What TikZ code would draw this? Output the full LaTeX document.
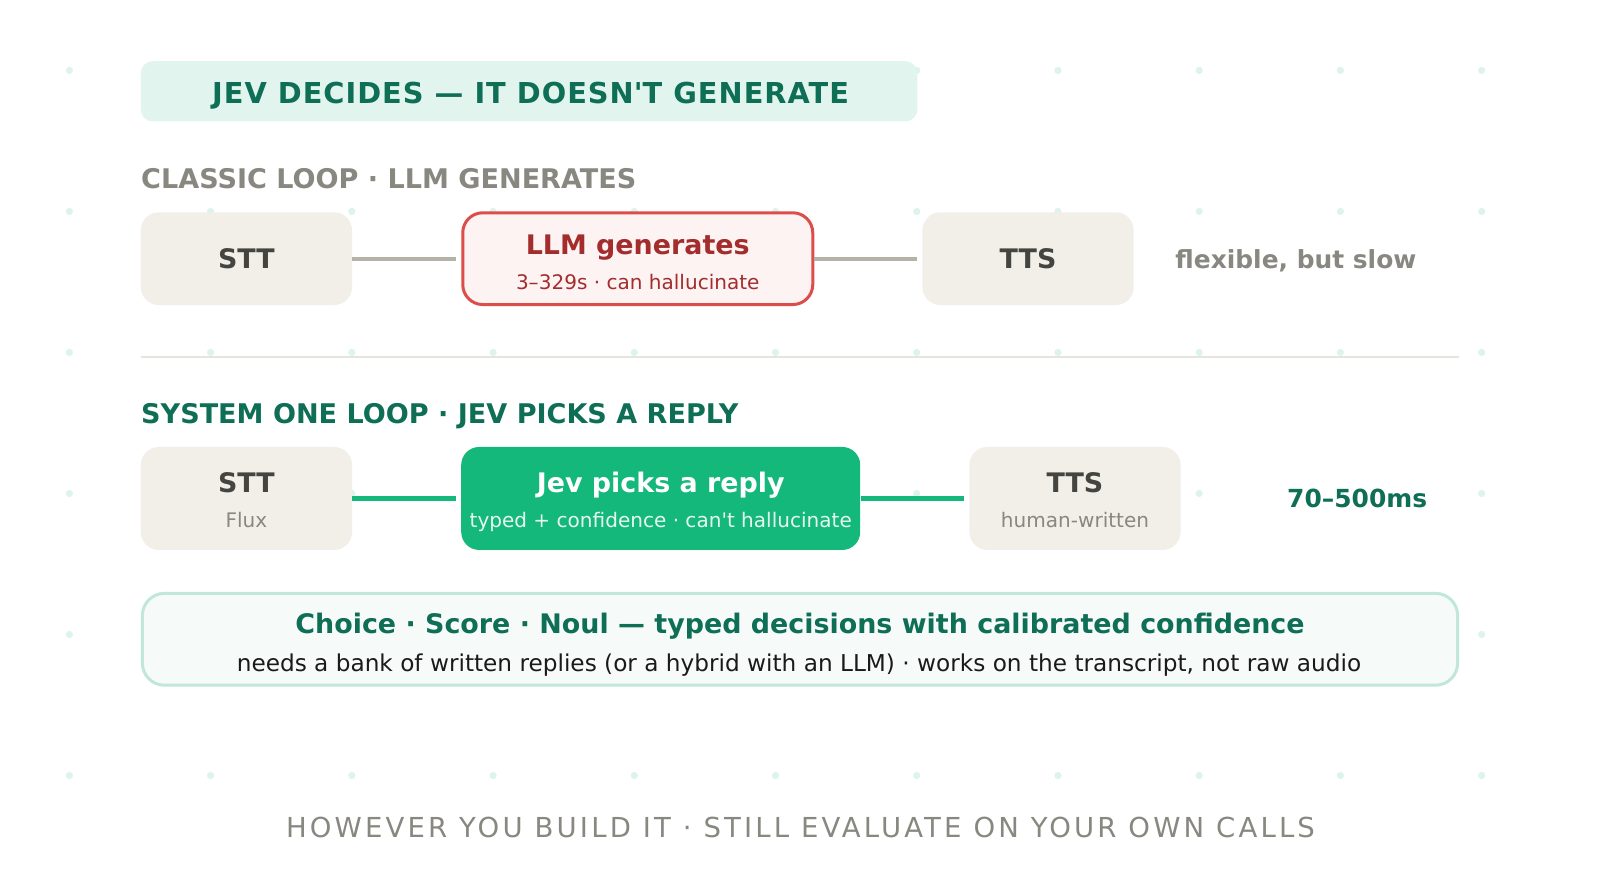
\documentclass[tikz,border=0pt]{standalone}
\usepackage{fontspec}
\setmainfont{DejaVu Sans}
\newfontfamily\titlefont[LetterSpace=3.5]{DejaVu Sans}
\newfontfamily\footfont[LetterSpace=11.5]{DejaVu Sans}
\definecolor{mintbg}{HTML}{E1F5EE}
\definecolor{dkgreen}{HTML}{0F6E56}
\definecolor{labgray}{HTML}{888780}
\definecolor{boxgray}{HTML}{F1EFE8}
\definecolor{dktext}{HTML}{444441}
\definecolor{linegray}{HTML}{B4B2A9}
\definecolor{redborder}{HTML}{DC4E4B}
\definecolor{redfill}{HTML}{FDF3F2}
\definecolor{redtext}{HTML}{A32D2D}
\definecolor{jevgreen}{HTML}{14B87A}
\definecolor{botfill}{HTML}{F6FBF9}
\definecolor{botborder}{HTML}{C0E7DA}
\definecolor{dotcol}{HTML}{DCF4EC}
\definecolor{divcol}{HTML}{E6E4DE}
\definecolor{bodytext}{HTML}{1A1A1A}
\definecolor{jevsubcol}{HTML}{E6F7F0}
\tikzset{
  grybox/.style={fill=boxgray, rounded corners=9pt, inner sep=0pt, minimum width=105.6pt},
  mainlbl/.style={anchor=base, inner sep=0pt, font=\fontsize{13.45pt}{15pt}\selectfont\bfseries},
  sublbl/.style={anchor=base, inner sep=0pt, font=\fontsize{10.02pt}{12pt}\selectfont},
  seclbl/.style={anchor=base west, inner sep=0pt, font=\fontsize{13.53pt}{15pt}\selectfont\bfseries},
  sidelbl/.style={anchor=base, inner sep=0pt, font=\fontsize{12.45pt}{14pt}\selectfont\bfseries},
  gconn/.style={draw=linegray, line width=2pt, shorten >=2.5pt},
  jconn/.style={draw=jevgreen, line width=2.5pt, shorten >=2.5pt},
}
\begin{document}
\begin{tikzpicture}[x=0.510204pt,y=-0.510204pt]
\useasboundingbox[fill=white] (0,0) rectangle (1568,876.16);
% background dots
\foreach \i in {0,...,10}{
  \foreach \j in {0,...,5}{
    \fill[dotcol] ({68+138.4*\i},{69+138.2*\j}) circle[radius=1.8pt];
  }
}
% title
\node[fill=mintbg, rounded corners=6pt, minimum width=388.3pt, minimum height=30.1pt, inner sep=0pt] (titlebox) at (518.5,89.5) {};
\node[anchor=base, inner sep=0pt, text=dkgreen, font=\fontsize{14.4pt}{16pt}\titlefont\bfseries] (titletext) at (520,101) {JEV DECIDES — IT DOESN\textquotesingle T GENERATE};
% classic loop
\node[seclbl, text=labgray] (classiclbl) at (138,184.5) {CLASSIC LOOP · LLM GENERATES};
\node[grybox, minimum height=46.4pt] (stta) at (241.5,253.5) {};
\node[mainlbl, text=dktext] (sttatext) at (241.5,263) {STT};
\node[draw=redborder, line width=1.5pt, fill=redfill, rounded corners=10pt, minimum width=175pt, minimum height=45.9pt, inner sep=0pt] (llm) at (625,253.5) {};
\node[mainlbl, text=redtext] (llmtext) at (625,249.5) {LLM generates};
\node[sublbl, text=redtext] (llmsub) at (625,284) {3–329s · can hallucinate};
\node[grybox, minimum height=46.4pt] (ttsa) at (1007.5,253.5) {};
\node[mainlbl, text=dktext] (ttsatext) at (1007.5,263) {TTS};
\node[sidelbl, text=labgray] (flex) at (1270,262.7) {flexible, but slow};
\draw[gconn] (stta.east) -- (llm.west);
\draw[gconn] (llm.east) -- (ttsa.west);
% divider
\draw[divcol, line width=1.1pt] (138,350) -- (1430,350);
% system one loop
\node[seclbl, text=dkgreen] (syslbl) at (138,415.5) {SYSTEM ONE LOOP · JEV PICKS A REPLY};
\node[grybox, minimum height=51.5pt] (sttb) at (241.5,488.5) {};
\node[mainlbl, text=dktext] (sttbtext) at (241.5,482.5) {STT};
\node[sublbl, text=labgray] (sttbsub) at (241.5,517) {Flux};
\node[fill=jevgreen, rounded corners=9pt, minimum width=199.5pt, minimum height=51.5pt, inner sep=0pt] (jev) at (647.5,488.5) {};
\node[mainlbl, text=white] (jevtext) at (647.5,482.5) {Jev picks a reply};
\node[sublbl, text=jevsubcol] (jevsub) at (647.5,517) {typed + confidence · can\textquotesingle t hallucinate};
\node[grybox, minimum height=51.5pt] (ttsb) at (1053.5,488.5) {};
\node[mainlbl, text=dktext] (ttsbtext) at (1053.5,482.5) {TTS};
\node[sublbl, text=labgray] (ttsbsub) at (1053.5,517) {human-written};
\node[sidelbl, text=dkgreen] (latency) at (1330,497.7) {70–500ms};
\draw[jconn] (sttb.east) -- (jev.west);
\draw[jconn] (jev.east) -- (ttsb.west);
% bottom box
\node[draw=botborder, line width=1.5pt, fill=botfill, rounded corners=11pt, minimum width=657.6pt, minimum height=45.9pt, inner sep=0pt] (bottom) at (784,626.5) {};
\node[mainlbl, text=dkgreen] (bottomtitle) at (784,620.5) {Choice · Score · Noul — typed decisions with calibrated confidence};
\node[anchor=base, inner sep=0pt, text=bodytext, font=\fontsize{11.6pt}{13pt}\selectfont] (bottomsub) at (783,658) {needs a bank of written replies (or a hybrid with an LLM) · works on the transcript, not raw audio};
% footer
\node[anchor=base, inner sep=0pt, text=labgray, font=\fontsize{13.76pt}{15pt}\footfont] (footer) at (784.5,820.5) {HOWEVER YOU BUILD IT · STILL EVALUATE ON YOUR OWN CALLS};
\end{tikzpicture}
\end{document}
